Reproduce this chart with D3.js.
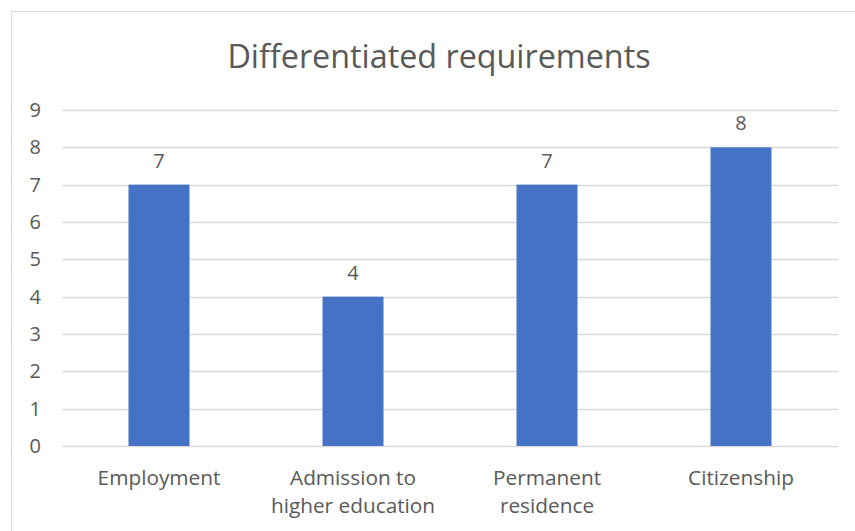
<!DOCTYPE html>
<html>
<head>
<meta charset="utf-8">
<script src="https://cdn.jsdelivr.net/npm/d3@7"></script>
<style>
body { margin: 0; background: #fff; }
svg text { font-family: "Open Sans", sans-serif; fill: #595959; }
</style>
</head>
<body>
<script>
var categories = [["Employment"], ["Admission to", "higher education"], ["Permanent", "residence"], ["Citizenship"]];
var values     = [7, 4, 7, 8];
var yTicks     = [0, 1, 2, 3, 4, 5, 6, 7, 8, 9];
var title      = "Differentiated requirements";

var width = 855, height = 531;
var margin = {left: 62, right: 17, top: 110, bottom: 85};

var svg = d3.select("body").append("svg").attr("width", width).attr("height", height);

// chart border
svg.append("rect").attr("x", 11.5).attr("y", 11.5).attr("width", width + 10).attr("height", height + 10)
   .attr("fill", "none").attr("stroke", "#d9d9d9").attr("stroke-width", 1);

svg.append("text").attr("x", 439).attr("y", 68).attr("text-anchor", "middle")
   .style("font-size", "32.3px").text(title);

var x = d3.scaleBand().domain(d3.range(values.length)).range([margin.left, width - margin.right]).paddingInner(0).paddingOuter(0);
var y = d3.scaleLinear().domain([0, 9]).range([height - margin.bottom, margin.top]);

var grid = svg.append("g");
grid.selectAll("line").data(yTicks).enter().append("line")
    .attr("x1", margin.left).attr("x2", width - margin.right)
    .attr("y1", function(d){return Math.round(y(d)) + 0.5;})
    .attr("y2", function(d){return Math.round(y(d)) + 0.5;})
    .attr("stroke", "#d9d9d9").attr("stroke-width", 1.3);

var yAxis = d3.axisLeft(y).tickValues(yTicks).tickSize(0).tickPadding(0);
var yg = svg.append("g").attr("transform", "translate(41,0)").call(yAxis);
yg.select(".domain").remove();
yg.selectAll("text").style("font-size", "20px").style("font-family", "'Open Sans', sans-serif").attr("fill", "#595959");

var barW = 61;
svg.append("g").selectAll("rect").data(values).enter().append("rect")
   .attr("x", function(d, i){return x(i) + x.bandwidth() / 2 - barW / 2;})
   .attr("y", function(d){return y(d);})
   .attr("width", barW)
   .attr("height", function(d){return y(0) - y(d);})
   .attr("fill", "#4472c4");

svg.append("g").selectAll("text").data(values).enter().append("text")
   .attr("x", function(d, i){return x(i) + x.bandwidth() / 2;})
   .attr("y", function(d){return y(d) - 17;})
   .attr("text-anchor", "middle").style("font-size", "20px")
   .text(function(d){return d;});

var labels = svg.append("g").selectAll("text").data(categories).enter().append("text")
   .attr("text-anchor", "middle").style("font-size", "20.8px")
   .attr("transform", function(d, i){return "translate(" + (x(i) + x.bandwidth() / 2) + "," + 485 + ")";});
labels.selectAll("tspan").data(function(d){return d;}).enter().append("tspan")
   .attr("x", 0).attr("y", function(d, j){return j * 28;})
   .text(function(d){return d;});
</script>
</body>
</html>
